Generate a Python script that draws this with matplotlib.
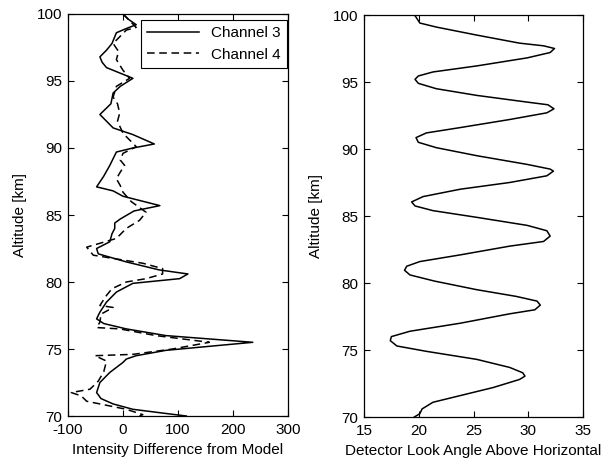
import matplotlib
matplotlib.use("Agg")
import matplotlib.pyplot as plt

plt.rcParams['font.family'] = ['Liberation Sans', 'DejaVu Sans']
plt.rcParams['axes.unicode_minus'] = False

# --- left panel: intensity difference vs altitude ---
alt_ch3 = [100.0, 99.6, 99.2, 98.9, 98.6, 97.8, 97.3, 96.8, 96.4, 96.0, 95.2,
           94.6, 94.1, 93.3, 92.5, 92.0, 91.5, 91.0, 90.3, 90.0, 89.7, 89.2,
           88.7, 87.9, 87.1, 86.8, 86.4, 85.7, 85.3, 84.7, 84.4, 84.0, 83.6,
           83.0, 82.5, 82.1, 81.5, 80.9, 80.6, 80.25, 79.9, 79.25, 78.5,
           77.75, 77.25, 76.9, 76.5, 76.0, 75.5, 74.9, 74.5, 74.25, 74.0,
           73.25, 72.5, 71.75, 71.3, 70.9, 70.5, 70.25, 70.0]
val_ch3 = [0, 10, 24, 5, -12, -20, -30, -42, -38, -30, 18,
           -5, -18, -22, -42, -30, -18, 18, 57, 18, -12, -18,
           -24, -35, -48, -18, 0, 67, 20, -5, -15, -15, -20,
           -24, -48, -45, 6, 66, 118, 103, 18, -12, -30,
           -42, -48, -35, 6, 78, 236, 78, 24, 6, 0,
           -24, -42, -48, -40, -18, 18, 66, 115]

alt_ch4 = [100.0, 99.5, 99.0, 98.8, 98.3, 97.8, 97.2, 96.6, 95.8, 95.2,
           94.6, 93.8, 93.3, 92.6, 92.0, 91.1, 90.1, 89.6, 89.1, 88.7,
           88.2, 87.7, 87.2, 86.7, 86.0, 85.2, 84.6, 84.0, 83.25, 82.6,
           82.3, 82.0, 81.4, 81.0, 80.6, 80.25, 80.0, 79.5, 79.0, 78.25,
           78.1, 77.6, 77.0, 76.6, 76.5, 76.0, 75.5, 75.0, 74.6, 74.5,
           74.1, 73.3, 72.6, 72.0, 71.75, 71.5, 71.1, 70.9, 70.5, 70.1, 70.0]
val_ch4 = [0, 12, 24, 6, -6, -18, -8, -12, 0, 12,
           -12, -18, -10, -6, -10, 0, 24, 0, -5, 3,
           -5, -12, -5, 0, 15, 42, 30, 6, -12, -66,
           -60, -54, 36, 72, 72, 42, 6, -20, -30, -42,
           -18, -40, -42, -48, -6, 60, 157, 90, 18, -51,
           -30, -35, -45, -60, -94, -76, -66, -42, 6, 36, 30]

# --- right panel: detector look angle vs altitude ---
alt_angle = [100.0, 99.9, 99.4, 99.1, 98.5, 97.9, 97.7, 97.5, 97.2, 96.8,
             96.2, 95.75, 95.45, 95.2, 94.9, 94.5, 94.0, 93.5, 93.3, 93.0,
             92.7, 92.2, 91.6, 91.2, 90.85, 90.5, 90.1, 89.5, 88.85, 88.5,
             88.35, 88.0, 87.5, 87.0, 86.45, 86.05, 85.75, 85.4, 84.9, 84.3,
             83.9, 83.5, 83.1, 82.75, 82.1, 81.6, 81.25, 80.95, 80.6, 80.15,
             79.5, 79.0, 78.65, 78.35, 78.0, 77.7, 77.0, 76.4, 76.0, 75.7,
             75.3, 74.9, 74.3, 73.7, 73.3, 73.05, 72.8, 72.2, 71.6, 71.1,
             70.6, 70.25, 70.05, 70.0]
angle = [19.6, 19.7, 20.1, 21.6, 25.3, 29.2, 31.4, 32.4, 32.0, 29.9,
         25.3, 21.3, 19.96, 19.66, 19.96, 21.6, 25.3, 29.9, 31.8, 32.35,
         31.7, 28.3, 23.8, 20.7, 19.75, 19.96, 21.6, 25.3, 29.9, 32.0,
         32.3, 31.7, 28.3, 23.8, 20.4, 19.35, 19.66, 21.3, 25.3, 29.9,
         31.7, 32.0, 31.4, 28.3, 23.8, 20.1, 18.9, 18.7, 19.2, 21.4,
         25.3, 28.9, 30.8, 31.1, 30.6, 28.3, 23.8, 19.2, 17.5, 17.4,
         18.0, 20.7, 25.3, 28.3, 29.5, 29.7, 29.2, 26.8, 23.8, 21.3,
         20.3, 20.1, 19.7, 19.6]

fig = plt.figure(figsize=(6.14, 4.61), dpi=100)
ax1 = fig.add_axes([68 / 614, 45 / 461, 220 / 614, 402 / 461])
ax2 = fig.add_axes([364 / 614, 44 / 461, 219 / 614, 402 / 461])

ax1.plot(val_ch3, alt_ch3, color='black', lw=1.1, label='Channel 3')
ax1.plot(val_ch4, alt_ch4, color='black', lw=1.1, ls=(0, (5, 3)), label='Channel 4')
ax1.set_xlim(-100, 300)
ax1.set_xticks([-100, 0, 100, 200, 300])
ax1.set_xlabel('Intensity Difference from Model', fontsize=11, labelpad=4)
leg = ax1.legend(loc='upper right', bbox_to_anchor=(0.995, 0.985), borderaxespad=0,
                 fancybox=False, edgecolor='black', fontsize=11, handlelength=3.4,
                 framealpha=1)
leg.get_frame().set_linewidth(0.8)

ax2.plot(angle, alt_angle, color='black', lw=1.1)
ax2.set_xlim(15, 35)
ax2.set_xticks([15, 20, 25, 30, 35])
ax2.set_xlabel('Detector Look Angle Above Horizontal', fontsize=11, labelpad=4)

for ax in (ax1, ax2):
    ax.set_ylim(70, 100)
    ax.set_yticks([70, 75, 80, 85, 90, 95, 100])
    ax.set_ylabel('Altitude [km]', fontsize=11, labelpad=7)
    ax.tick_params(direction='in', top=True, right=True, labelsize=11, length=4)
    ax.tick_params(axis='x', pad=5)
    ax.tick_params(axis='y', pad=4)
    for s in ax.spines.values():
        s.set_linewidth(0.9)

fig.savefig('out.png', dpi=100)
